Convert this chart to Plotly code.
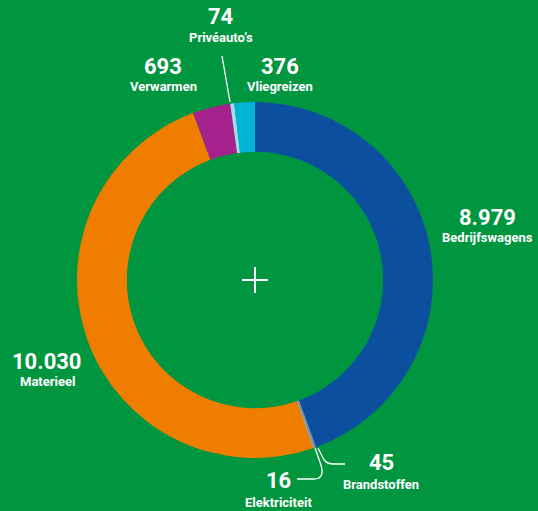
import plotly.graph_objects as go

categories = ["Bedrijfswagens", "Brandstoffen", "Elektriciteit", "Materieel", "Verwarmen", "Privéauto’s", "Vliegreizen"]
values = [8979, 45, 16, 10030, 693, 74, 376]
value_labels = ["8.979", "45", "16", "10.030", "693", "74", "376"]
colors = ["#0b4f9e", "#7d8fb8", "#f3b97a", "#ef7d00", "#a5218c", "#a9d9ef", "#00b4d8"]

W, H = 538, 511
cx, cy, R = 255, 280, 178
bg = "#009640"

fig = go.Figure()
fig.add_trace(go.Pie(
    labels=categories, values=values, sort=False, direction="clockwise", rotation=0,
    hole=0.72, marker=dict(colors=colors, line=dict(width=0)),
    textinfo="none", hoverinfo="label+value", showlegend=False,
    domain=dict(x=[(cx - R) / W, (cx + R) / W], y=[(H - cy - R) / H, (H - cy + R) / H]),
))

# label positions (pixel coords)
label_pos = {
    "Bedrijfswagens": (487, 217, 237),
    "Brandstoffen": (381, 462, 484),
    "Elektriciteit": (278, 480, 502),
    "Materieel": (47, 361, 381),
    "Verwarmen": (163, 66, 86),
    "Privéauto’s": (221, 16, 37),
    "Vliegreizen": (280, 66, 86),
}
font_fam = "Roboto"
for cat, val in zip(categories, value_labels):
    x, y1, y2 = label_pos[cat]
    fig.add_annotation(x=x, y=y1, text=f"<b>{val}</b>", showarrow=False, xref="x", yref="y",
                       font=dict(family=font_fam, size=22, color="white"), xanchor="center", yanchor="middle")
    fig.add_annotation(x=x, y=y2, text=f"<b>{cat}</b>", showarrow=False, xref="x", yref="y",
                       font=dict(family=font_fam, size=13, color="white"), xanchor="center", yanchor="middle")

line = dict(color="white", width=1.3)
fig.add_shape(type="line", x0=222, y0=56, x1=230, y1=102, xref="x", yref="y", line=line)
fig.add_shape(type="path", path="M 318 448 L 322 456 Q 325 464 333 464 L 345 464", xref="x", yref="y", line=line)
fig.add_shape(type="path", path="M 315 448 L 321 465 Q 325 479 314 479 L 297 479", xref="x", yref="y", line=line)
# center cross
fig.add_shape(type="line", x0=cx - 13, y0=cy, x1=cx + 13, y1=cy, xref="x", yref="y", line=dict(color="white", width=2))
fig.add_shape(type="line", x0=cx, y0=cy - 13, x1=cx, y1=cy + 13, xref="x", yref="y", line=dict(color="white", width=2))

fig.update_xaxes(range=[0, W], visible=False, fixedrange=True)
fig.update_yaxes(range=[H, 0], visible=False, fixedrange=True)
fig.update_layout(width=W, height=H, margin=dict(l=0, r=0, t=0, b=0),
                  paper_bgcolor=bg, plot_bgcolor=bg)
fig.write_html("out.html", config={"displayModeBar": False},
               post_script="document.body.style.margin='0';document.body.style.background='%s';" % bg)
